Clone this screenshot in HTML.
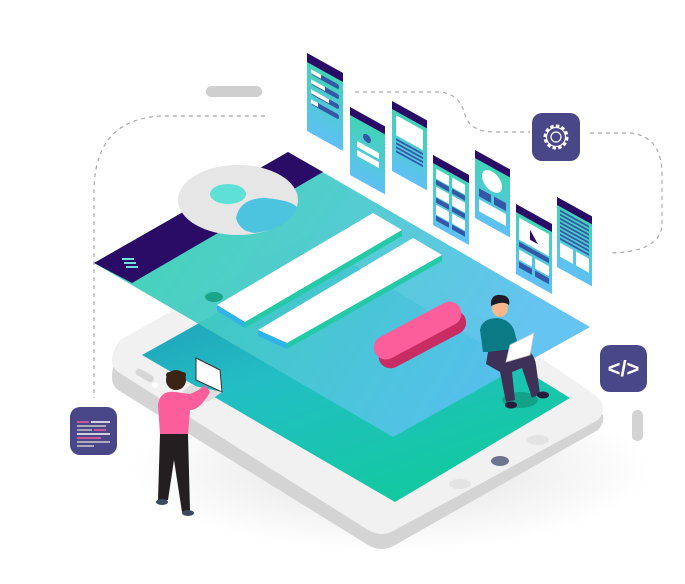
<!DOCTYPE html>
<html><head><meta charset="utf-8"><style>html,body{margin:0;padding:0;background:#fff}svg{display:block}</style></head>
<body>
<svg width="685" height="584" viewBox="0 0 685 584" xmlns="http://www.w3.org/2000/svg">
<defs>
<linearGradient id="plane" x1="0" y1="0" x2="1" y2="0.4"><stop offset="0" stop-color="#2fd3a6"/><stop offset="0.5" stop-color="#46c9cc"/><stop offset="1" stop-color="#5bbff2"/></linearGradient>
<linearGradient id="screen" x1="0" y1="0" x2="0.6" y2="1"><stop offset="0" stop-color="#1f8fb0"/><stop offset="0.5" stop-color="#22bec5"/><stop offset="1" stop-color="#13c9a0"/></linearGradient>
<linearGradient id="card" x1="0" y1="0" x2="0" y2="1"><stop offset="0" stop-color="#3dd6ae"/><stop offset="1" stop-color="#5fc0f5"/></linearGradient>
<radialGradient id="shadow" cx="0.5" cy="0.5" r="0.5"><stop offset="0" stop-color="#000" stop-opacity="0.12"/><stop offset="1" stop-color="#000" stop-opacity="0"/></radialGradient>
</defs>
<!-- dashed connectors -->
<g fill="none" stroke="#a9a9a9" stroke-width="1.2" stroke-dasharray="4 4">
<path d="M265 116 H160 Q95 120 94 190 V398"/>
<path d="M355 92 H440 Q460 94 465 115 Q470 132 495 132 H530"/>
<path d="M590 133 H630 Q662 136 662 175 V225 Q660 252 610 253"/>
</g>
<rect x="206" y="86" width="56" height="11" rx="5.5" fill="#cfcfcf"/>
<rect x="632" y="410" width="11" height="31" rx="5.5" fill="#d3d3d3"/>
<!-- shadow -->
<ellipse cx="390" cy="470" rx="260" ry="80" fill="url(#shadow)"/>
<!-- phone -->
<path d="M120 340 L320 228 Q335 220 350 228 L595 395 Q610 407 598 420 L395 535 Q382 543 368 535 L118 380 Q105 370 120 340 Z" fill="#d4d4d4" transform="translate(0,10)"/>
<path d="M120 340 L320 228 Q335 220 350 228 L595 395 Q610 407 598 420 L395 530 Q382 538 368 530 L118 372 Q105 362 120 340 Z" fill="#f1f1f1"/>
<polygon points="142,355 330,250 570,398 395,502" fill="url(#screen)"/>
<ellipse cx="500" cy="461" rx="9" ry="5" fill="#6d7590"/>
<ellipse cx="538" cy="440" rx="11" ry="5" fill="#e3e3e3"/>
<ellipse cx="460" cy="484" rx="11" ry="5" fill="#e3e3e3"/>
<rect x="135" y="372" width="20" height="7" rx="3.5" fill="#d6d6d6" transform="rotate(30 145 375)"/>
<circle cx="155" cy="385" r="3" fill="#fff"/>
<!-- floating plane -->
<polygon points="94,263 288,152 590,327 393,437" fill="url(#plane)" opacity="0.93"/>
<polygon points="94,263 288,152 323,172 132,283" fill="#2a0c66"/>
<g fill="#6fe3e0"><rect x="122" y="258" width="12" height="2"/><rect x="124" y="262" width="12" height="2"/><rect x="126" y="266" width="12" height="2"/></g>
<ellipse cx="214" cy="297" rx="9" ry="5" fill="#1aa58a"/>
<!-- avatar -->
<ellipse cx="238" cy="200" rx="60" ry="35" fill="#e6e6e6"/>
<ellipse cx="228" cy="194" rx="18" ry="10" fill="#5fe0d6"/>
<path d="M236 218 Q240 198 265 198 Q290 200 297 207 Q290 228 255 233 Q240 232 236 218Z" fill="#4cc3df"/>
<!-- bars -->
<polygon points="217,305 373,213 402,230 245,322" fill="#fff"/>
<polygon points="217,305 245,322 245,328 217,311" fill="#32b3e8"/>
<polygon points="245,322 402,230 402,236 245,328" fill="#24c9a8"/>
<polygon points="258,330 413,238 442,255 287,343" fill="#fff"/>
<polygon points="258,330 287,343 287,349 258,336" fill="#32b3e8"/>
<polygon points="287,343 442,255 442,261 287,349" fill="#24c9a8"/>
<!-- pink pill -->
<g transform="rotate(-28 420 335)"><rect x="372" y="328" width="96" height="24" rx="12" fill="#c72c63"/><rect x="372" y="318" width="96" height="24" rx="12" fill="#fb5e9a"/></g>
<!-- cards -->
<g>
<g transform="translate(307,53) skewY(29)"><rect width="36" height="78" fill="url(#card)"/><rect width="36" height="9" fill="#2a0c66"/><g fill="#3457a8"><rect x="4" y="14" width="28" height="5" rx="2"/><rect x="4" y="24" width="28" height="5" rx="2"/><rect x="4" y="34" width="28" height="5" rx="2"/><rect x="4" y="44" width="28" height="5" rx="2"/></g><g fill="#fff"><rect x="4" y="14" width="10" height="4"/><rect x="4" y="24" width="14" height="4"/><rect x="4" y="34" width="18" height="4"/><rect x="4" y="44" width="7" height="4"/></g></g>
<g transform="translate(350,107) skewY(29)"><rect width="35" height="68" fill="url(#card)"/><rect width="35" height="8" fill="#2a0c66"/><circle cx="17" cy="22" r="4" fill="#3457a8"/><rect x="7" y="30" width="22" height="6" fill="#fff"/><rect x="7" y="39" width="22" height="6" fill="#fff"/></g>
<g transform="translate(392,101) skewY(29)"><rect width="35" height="70" fill="url(#card)"/><rect width="35" height="8" fill="#2a0c66"/><rect x="4" y="12" width="27" height="20" fill="#fff"/><g fill="#3457a8"><rect x="4" y="35" width="27" height="2"/><rect x="4" y="39" width="27" height="2"/><rect x="4" y="43" width="27" height="2"/><rect x="4" y="47" width="27" height="2"/></g></g>
<g transform="translate(433,155) skewY(29)"><rect width="36" height="70" fill="url(#card)"/><rect width="36" height="8" fill="#2a0c66"/><g fill="#fff"><rect x="3" y="12" width="13" height="10"/><rect x="19" y="12" width="13" height="10"/><rect x="3" y="30" width="13" height="10"/><rect x="19" y="30" width="13" height="10"/><rect x="3" y="48" width="13" height="10"/><rect x="19" y="48" width="13" height="10"/></g><g fill="#3457a8"><rect x="3" y="23" width="13" height="5"/><rect x="19" y="23" width="13" height="5"/><rect x="3" y="41" width="13" height="5"/><rect x="19" y="41" width="13" height="5"/><rect x="3" y="59" width="13" height="5"/><rect x="19" y="59" width="13" height="5"/></g></g>
<g transform="translate(475,150) skewY(29)"><rect width="35" height="68" fill="url(#card)"/><rect width="35" height="8" fill="#2a0c66"/><ellipse cx="17" cy="22" rx="10" ry="10" fill="#fff"/><g fill="#3457a8"><rect x="4" y="36" width="12" height="8"/><rect x="19" y="36" width="12" height="8"/></g><rect x="4" y="47" width="27" height="12" fill="#fff"/></g>
<g transform="translate(516,204) skewY(29)"><rect width="36" height="70" fill="url(#card)"/><rect width="36" height="8" fill="#2a0c66"/><rect x="3" y="12" width="30" height="22" fill="#fff"/><polygon points="14,18 14,28 22,28" fill="#2a0c66"/><rect x="3" y="36" width="30" height="5" fill="#3457a8"/><g fill="#fff"><rect x="3" y="44" width="13" height="10"/><rect x="19" y="44" width="14" height="10"/></g><g fill="#3457a8"><rect x="3" y="56" width="13" height="6"/><rect x="19" y="56" width="14" height="6"/></g></g>
<g transform="translate(557,197) skewY(29)"><rect width="35" height="70" fill="url(#card)"/><rect width="35" height="8" fill="#2a0c66"/><g fill="#3457a8"><rect x="3" y="11" width="29" height="2"/><rect x="3" y="15" width="29" height="2"/><rect x="3" y="19" width="29" height="2"/><rect x="3" y="23" width="29" height="2"/><rect x="3" y="27" width="29" height="2"/><rect x="3" y="31" width="29" height="2"/><rect x="3" y="35" width="29" height="2"/><rect x="3" y="39" width="29" height="2"/></g><rect x="3" y="44" width="13" height="14" fill="#fff"/><rect x="19" y="44" width="13" height="14" fill="#fff"/></g>
</g>
<!-- icon boxes -->
<rect x="532" y="113" width="48" height="48" rx="10" fill="#4a4789"/>
<g fill="none" stroke="#fff" stroke-width="1.3"><circle cx="556" cy="137" r="6"/><circle cx="556" cy="137" r="11" stroke-dasharray="3.5 2.2" stroke-width="3"/></g>
<circle cx="556" cy="137" r="9.5" fill="#4a4789"/><circle cx="556" cy="137" r="9.5" fill="none" stroke="#fff" stroke-width="1.2"/><circle cx="556" cy="137" r="5" fill="none" stroke="#fff" stroke-width="1.2"/>
<rect x="600" y="345" width="47" height="47" rx="10" fill="#4a4789"/>
<text x="623.5" y="376" font-family="Liberation Sans, sans-serif" font-size="22" font-weight="bold" fill="#fff" text-anchor="middle">&lt;/&gt;</text>
<rect x="70" y="407" width="47" height="48" rx="10" fill="#4a4789"/>
<g stroke-width="1.4"><line x1="77" y1="422" x2="89" y2="422" stroke="#fb5e9a"/><line x1="91" y1="422" x2="110" y2="422" stroke="#fff"/><line x1="77" y1="426" x2="106" y2="426" stroke="#ccc"/><line x1="77" y1="430" x2="92" y2="430" stroke="#ccc"/><line x1="94" y1="430" x2="106" y2="430" stroke="#fb5e9a"/><line x1="77" y1="434" x2="110" y2="434" stroke="#fff"/><line x1="77" y1="438" x2="101" y2="438" stroke="#fb5e9a"/><line x1="77" y1="442" x2="110" y2="442" stroke="#ccc"/><line x1="77" y1="446" x2="94" y2="446" stroke="#ccc"/></g>
<!-- man left -->
<polygon points="196,358 220,370 222,392 196,380" fill="#fff" stroke="#333" stroke-width="1"/>
<polygon points="190,385 222,392 208,402 182,392" fill="#ddd"/>
<path d="M158 405 Q160 390 175 392 L190 394 Q200 390 205 385 L210 392 Q200 410 190 410 L188 434 L160 434 Z" fill="#fb5e9a"/>
<path d="M160 434 L188 434 L190 510 L182 512 L174 460 L168 500 L158 500 Z" fill="#231f20"/>
<ellipse cx="162" cy="502" rx="6" ry="3" fill="#3c4a60"/><ellipse cx="188" cy="513" rx="6" ry="3" fill="#3c4a60"/>
<circle cx="176" cy="380" r="10" fill="#3b2416"/>
<rect x="166" y="372" width="20" height="6" rx="3" fill="#3b2416"/>
<!-- man right -->
<ellipse cx="520" cy="400" rx="18" ry="8" fill="#0f8a75" opacity="0.6"/>
<path d="M480 330 Q482 318 498 318 Q510 320 514 330 L518 345 L508 350 L500 352 L483 352 Z" fill="#0b7a84"/>
<path d="M488 352 L520 348 Q534 350 536 365 L540 394 L532 398 L522 368 L512 372 L515 400 L506 402 L500 372 L486 364 Z" fill="#3d3157"/>
<polygon points="510,345 534,333 530,355 506,362" fill="#fff" stroke="#ccc" stroke-width="0.8"/>
<ellipse cx="543" cy="395" rx="6" ry="3.5" fill="#261c3c"/><ellipse cx="511" cy="405" rx="6" ry="3.5" fill="#261c3c"/>
<ellipse cx="500" cy="308" rx="8" ry="9" fill="#f7b78a"/>
<path d="M491 306 Q490 294 501 295 Q511 296 509 305 Q503 300 491 306Z" fill="#1e1b26"/>
</svg>
</body></html>
